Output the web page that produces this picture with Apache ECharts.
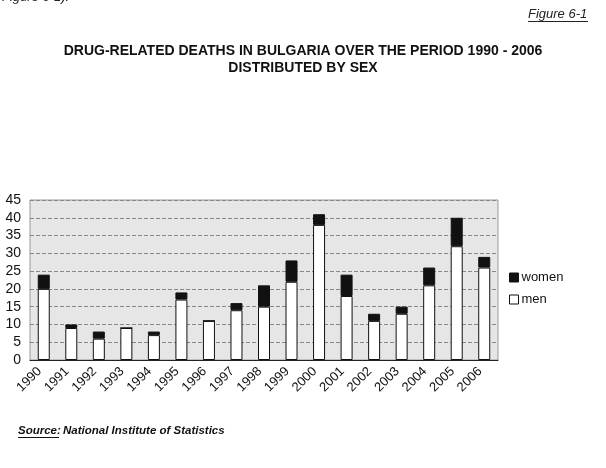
<!DOCTYPE html>
<html><head><meta charset="utf-8">
<script src="https://cdn.jsdelivr.net/npm/echarts@6/dist/echarts.min.js"></script>
<style>html,body{margin:0;padding:0;background:#fff}#c{width:606px;height:468px}</style>
</head><body><div id="c"></div>
<script>
const years = ['1990','1991','1992','1993','1994','1995','1996','1997','1998','1999','2000','2001','2002','2003','2004','2005','2006'];
const men   = [20, 9, 6, 9, 7, 17, 11, 14, 15, 22, 38, 18, 11, 13, 21, 32, 26];
const women = [4, 1, 2, 0, 1, 2, 0, 2, 6, 6, 3, 6, 2, 2, 5, 8, 3];
const yTicks = [0, 5, 10, 15, 20, 25, 30, 35, 40, 45];

const chart = echarts.init(document.getElementById('c'));
const F = 'Arial, "Liberation Sans", sans-serif';
chart.setOption({
  animation: false,
  backgroundColor: '#fff',
  title: {
    text: 'DRUG-RELATED DEATHS IN BULGARIA OVER THE PERIOD 1990 - 2006\nDISTRIBUTED BY SEX',
    left: 'center', top: 38,
    textStyle: {fontFamily: F, fontSize: 14, fontWeight: 'bold', color: '#111', lineHeight: 16.5}
  },
  graphic: [
    {type: 'text', left: 2, top: -9, style: {text: 'Figure 6-1).', font: 'italic 13px ' + F, fill: '#222'}},
    {type: 'text', left: 528, top: 8, style: {text: 'Figure 6-1', font: 'italic 13px ' + F, fill: '#222'}},
    {type: 'line', shape: {x1: 528, y1: 21.5, x2: 588, y2: 21.5}, style: {stroke: '#222', lineWidth: 1}},
    {type: 'text', left: 18, top: 425, style: {text: 'Source:', font: 'bold italic 11.5px ' + F, fill: '#111'}},
    {type: 'line', shape: {x1: 18, y1: 437.5, x2: 59, y2: 437.5}, style: {stroke: '#111', lineWidth: 1}},
    {type: 'text', left: 63, top: 425, style: {text: 'National Institute of Statistics', font: 'bold italic 11.5px ' + F, fill: '#111'}}
  ],
  legend: {
    orient: 'vertical', left: 504, top: 266, itemWidth: 9, itemHeight: 9, itemGap: 9,
    icon: 'rect',
    data: ['women', 'men'],
    itemStyle: {borderWidth: 1, borderColor: '#111'},
    textStyle: {fontFamily: F, fontSize: 13, color: '#111', padding: [0,0,0,-2]}
  },
  grid: {
    left: 30, right: 108, top: 200, bottom: 108,
    show: true, backgroundColor: '#e6e6e6', borderColor: '#999', borderWidth: 1
  },
  xAxis: {
    type: 'category', data: years,
    axisLine: {lineStyle: {color: '#222', width: 1}},
    axisTick: {show: false},
    axisLabel: {rotate: 45, fontFamily: F, fontSize: 13, color: '#111', margin: 5, interval: 0, padding: [0, 6, 0, 0]}
  },
  yAxis: {
    type: 'value', min: yTicks[0], max: yTicks[yTicks.length - 1], interval: 5,
    axisLine: {show: false}, axisTick: {show: false},
    axisLabel: {fontFamily: F, fontSize: 14, color: '#111', margin: 9},
    splitLine: {lineStyle: {color: '#888', type: 'dashed', width: 1}}
  },
  series: [
    {name: 'men', type: 'bar', stack: 's', data: men, barWidth: 12,
     itemStyle: {color: '#fff', borderColor: '#111', borderWidth: 1}},
    {name: 'women', type: 'bar', stack: 's', data: women, barWidth: 12,
     itemStyle: {color: '#111', borderColor: '#111', borderWidth: 1}}
  ]
});
</script></body></html>
